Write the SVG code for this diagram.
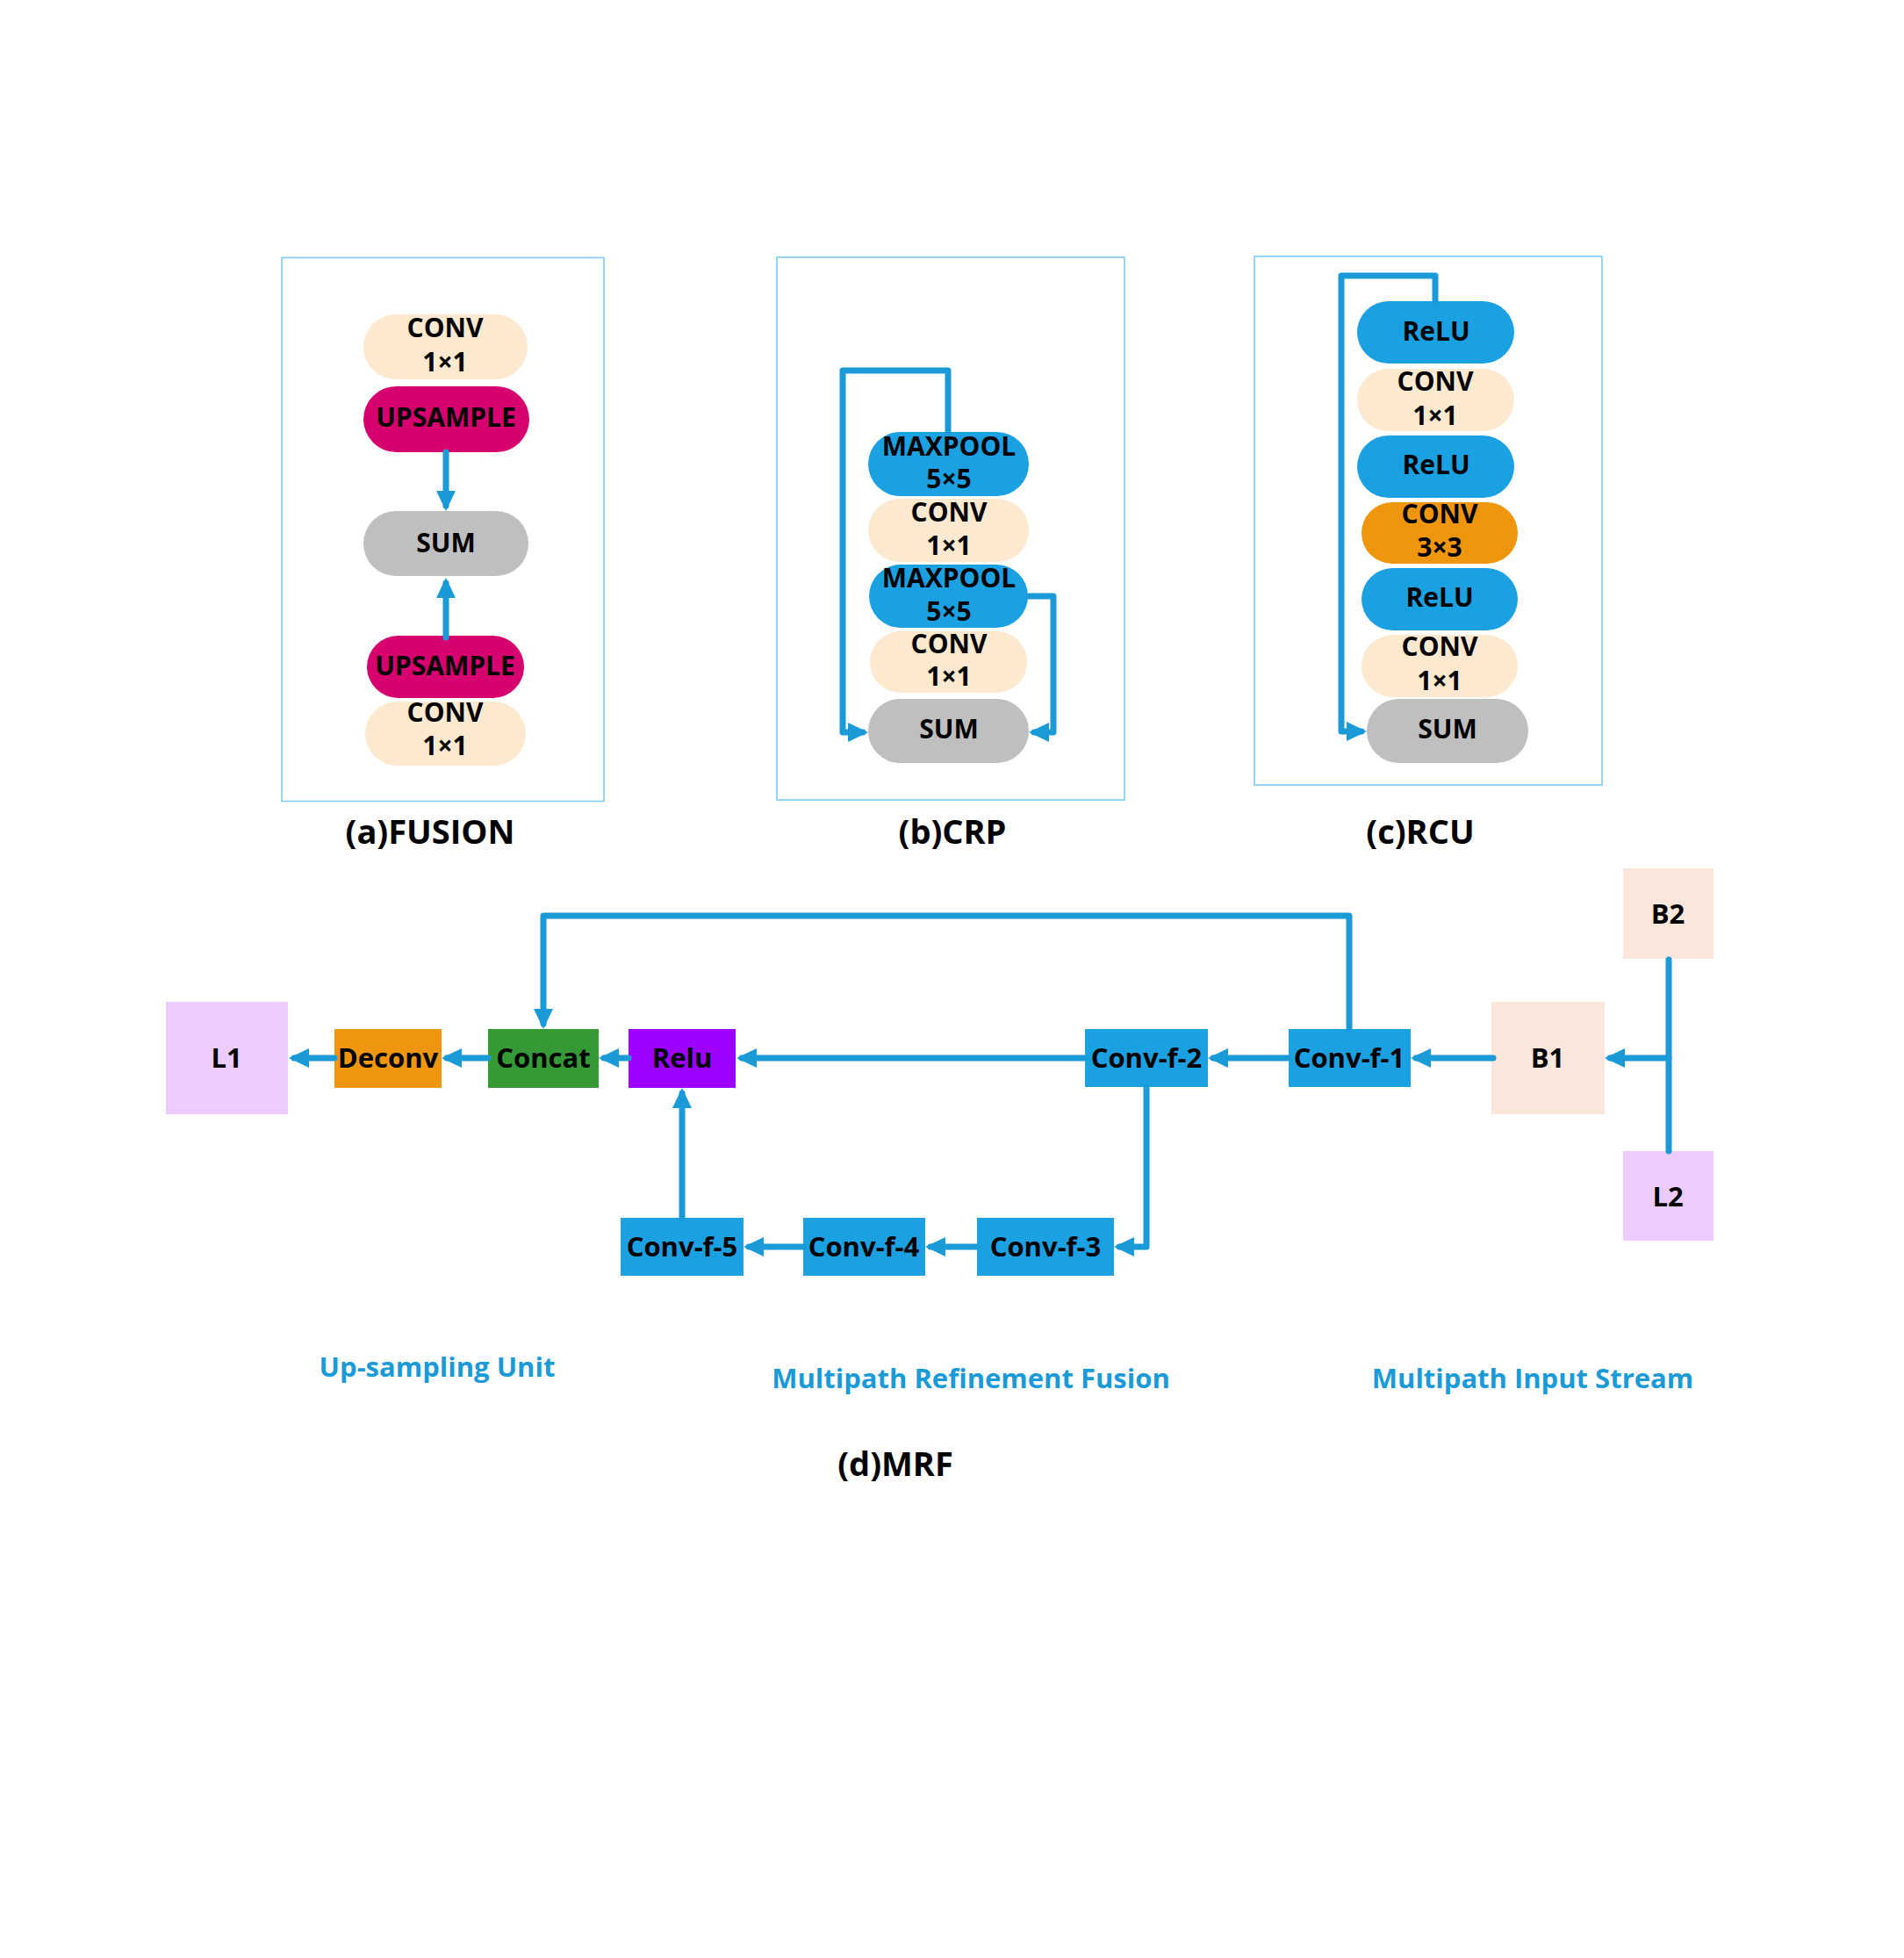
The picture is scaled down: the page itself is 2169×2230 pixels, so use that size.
<svg xmlns="http://www.w3.org/2000/svg" width="2169" height="2230" viewBox="0 0 2169 2230">
<defs>
<marker id="ah" markerUnits="userSpaceOnUse" markerWidth="24" markerHeight="22" refX="17" refY="11" orient="auto">
<path d="M0,0 L23,11 L0,22 Z" fill="#1A9AD7"/>
</marker>
</defs>
<style>
text{font-family:"Open Sans","Noto Sans","Liberation Sans",sans-serif;font-weight:700;text-anchor:middle;fill:#000}
.pt{font-size:30px}
.bt{font-size:31px}
.cap{font-size:38px}
.blue{font-size:31px;fill:#1A9AD7}
.frame{fill:none;stroke:#7FCBF1;stroke-width:1.6}
.cream{fill:#FCE9CF}
.mag{fill:#D6006F}
.gray{fill:#BFBFBF}
.blu{fill:#1BA1E2}
.org{fill:#EF960E}
.grn{fill:#359A35}
.pur{fill:#9D00FE}
.lav{fill:#EBCCFC}
.pch{fill:#FAE6DA}
.c{fill:none;stroke:#1A9AD7;stroke-width:7;stroke-linejoin:round;stroke-linecap:round}
.ca{marker-end:url(#ah)}
</style>
<rect width="2169" height="2230" fill="#fff"/>

<!-- frames -->
<rect class="frame" x="321" y="293.5" width="367" height="619"/>
<rect class="frame" x="885" y="293" width="396" height="618"/>
<rect class="frame" x="1429" y="292" width="396" height="602"/>

<!-- (a) FUSION -->
<g id="a-conv1"><rect class="cream" x="414" y="358" width="187" height="74" rx="37"/><text class="pt" x="507" y="384">CONV</text><text class="pt" x="507" y="423">1×1</text></g>
<g id="a-up1"><rect class="mag" x="414" y="440" width="189" height="75" rx="37.5"/><text class="pt" x="508" y="486">UPSAMPLE</text></g>
<g id="a-sum"><rect class="gray" x="414" y="582" width="188" height="74" rx="37"/><text class="pt" x="508" y="629">SUM</text></g>
<g id="a-up2"><rect class="mag" x="418" y="724" width="179" height="71" rx="35.5"/><text class="pt" x="507" y="769">UPSAMPLE</text></g>
<g id="a-conv2"><rect class="cream" x="416" y="799" width="183" height="73" rx="36.5"/><text class="pt" x="507" y="822">CONV</text><text class="pt" x="507" y="860">1×1</text></g>

<!-- (b) CRP -->
<g id="b-max1"><rect class="blu" x="989" y="492" width="183" height="73" rx="36.5"/><text class="pt" x="1081" y="519">MAXPOOL</text><text class="pt" x="1081" y="556">5×5</text></g>
<g id="b-conv1"><rect class="cream" x="989" y="568" width="183" height="72" rx="36"/><text class="pt" x="1081" y="594">CONV</text><text class="pt" x="1081" y="632">1×1</text></g>
<g id="b-max2"><rect class="blu" x="990" y="643" width="181" height="72" rx="36"/><text class="pt" x="1081" y="669">MAXPOOL</text><text class="pt" x="1081" y="707">5×5</text></g>
<g id="b-conv2"><rect class="cream" x="991" y="719" width="179" height="70" rx="35"/><text class="pt" x="1081" y="744">CONV</text><text class="pt" x="1081" y="781">1×1</text></g>
<g id="b-sum"><rect class="gray" x="989" y="796" width="183" height="73" rx="36.5"/><text class="pt" x="1081" y="841">SUM</text></g>

<!-- (c) RCU -->
<g id="c-relu1"><rect class="blu" x="1546" y="343" width="179" height="71" rx="35.5"/><text class="pt" x="1636" y="388">ReLU</text></g>
<g id="c-conv1"><rect class="cream" x="1546" y="420" width="179" height="71" rx="35.5"/><text class="pt" x="1635" y="445">CONV</text><text class="pt" x="1635" y="484">1×1</text></g>
<g id="c-relu2"><rect class="blu" x="1546" y="496" width="179" height="71" rx="35.5"/><text class="pt" x="1636" y="540">ReLU</text></g>
<g id="c-conv3"><rect class="org" x="1551" y="572" width="178" height="70" rx="35"/><text class="pt" x="1640" y="596">CONV</text><text class="pt" x="1640" y="634">3×3</text></g>
<g id="c-relu3"><rect class="blu" x="1551" y="647" width="178" height="71" rx="35.5"/><text class="pt" x="1640" y="691">ReLU</text></g>
<g id="c-conv2"><rect class="cream" x="1551" y="723" width="178" height="71" rx="35.5"/><text class="pt" x="1640" y="747">CONV</text><text class="pt" x="1640" y="786">1×1</text></g>
<g id="c-sum"><rect class="gray" x="1557" y="796" width="184" height="73" rx="36.5"/><text class="pt" x="1649" y="841">SUM</text></g>

<!-- captions -->
<text class="cap" x="490" y="961">(a)FUSION</text>
<text class="cap" x="1085" y="961">(b)CRP</text>
<text class="cap" x="1618" y="961">(c)RCU</text>

<!-- (d) MRF nodes -->
<g id="L1"><rect class="lav" x="189" y="1141" width="139" height="128"/><text class="bt" x="258" y="1216">L1</text></g>
<g id="Deconv"><rect class="org" x="381" y="1172" width="122" height="67"/><text class="bt" x="442" y="1216">Deconv</text></g>
<g id="Concat"><rect class="grn" x="556" y="1172" width="126" height="67"/><text class="bt" x="619" y="1216">Concat</text></g>
<g id="Relu"><rect class="pur" x="716" y="1172" width="122" height="67"/><text class="bt" x="777" y="1216">Relu</text></g>
<g id="Conv-f-2"><rect class="blu" x="1236" y="1172" width="140" height="66"/><text class="bt" x="1306" y="1216">Conv-f-2</text></g>
<g id="Conv-f-1"><rect class="blu" x="1468" y="1172" width="139" height="66"/><text class="bt" x="1537" y="1216">Conv-f-1</text></g>
<g id="B1"><rect class="pch" x="1699" y="1141" width="129" height="128"/><text class="bt" x="1763" y="1216">B1</text></g>
<g id="B2"><rect class="pch" x="1849" y="989" width="103" height="103"/><text class="bt" x="1900" y="1052">B2</text></g>
<g id="L2"><rect class="lav" x="1849" y="1311" width="103" height="102"/><text class="bt" x="1900" y="1374">L2</text></g>
<g id="Conv-f-3"><rect class="blu" x="1113" y="1387" width="156" height="66"/><text class="bt" x="1191" y="1431">Conv-f-3</text></g>
<g id="Conv-f-4"><rect class="blu" x="915" y="1387" width="139" height="66"/><text class="bt" x="984" y="1431">Conv-f-4</text></g>
<g id="Conv-f-5"><rect class="blu" x="707" y="1387" width="140" height="66"/><text class="bt" x="777" y="1431">Conv-f-5</text></g>

<text class="blue" x="498" y="1568">Up-sampling Unit</text>
<text class="blue" x="1106" y="1581">Multipath Refinement Fusion</text>
<text class="blue" x="1746" y="1581">Multipath Input Stream</text>
<text class="cap" x="1020" y="1681">(d)MRF</text>

<!-- connectors -->
<g id="connectors">
<path class="c ca" d="M508,515 L508,576"/>
<path class="c ca" d="M508,726 L508,664"/>
<path class="c ca" d="M1080,492 L1080,422 L960,422 L960,834 L983,834"/>
<path class="c ca" d="M1172,679 L1200,679 L1200,834 L1178,834"/>
<path class="c ca" d="M1635,343 L1635,314 L1528,314 L1528,833 L1551,833"/>
<path class="c" d="M1901,1093 L1901,1311"/>
<path class="c ca" d="M1901,1205 L1834,1205"/>
<path class="c ca" d="M1701,1205 L1613,1205"/>
<path class="c ca" d="M1468,1205 L1382,1205"/>
<path class="c ca" d="M1236,1205 L845,1205"/>
<path class="c ca" d="M716,1205 L688,1205"/>
<path class="c ca" d="M556,1205 L509,1205"/>
<path class="c ca" d="M381,1205 L335,1205"/>
<path class="c ca" d="M1537,1172 L1537,1043 L619,1043 L619,1166"/>
<path class="c ca" d="M1306,1238 L1306,1420 L1275,1420"/>
<path class="c ca" d="M1113,1420 L1060,1420"/>
<path class="c ca" d="M915,1420 L853,1420"/>
<path class="c ca" d="M777,1387 L777,1245"/>
</g>
</svg>
